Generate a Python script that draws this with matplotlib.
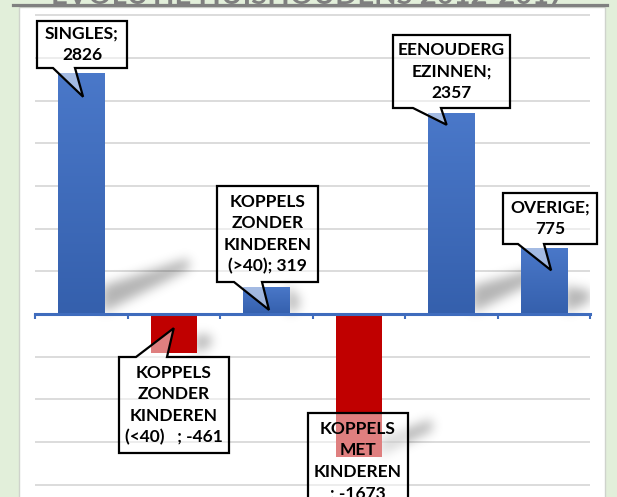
import numpy as np
import matplotlib
matplotlib.use('Agg')
import matplotlib.pyplot as plt
from matplotlib.patches import Rectangle, Polygon
from matplotlib.path import Path
from matplotlib.transforms import IdentityTransform
from matplotlib.lines import Line2D
from matplotlib.colors import LinearSegmentedColormap

# ---------------- data ----------------
categories = ["SINGLES", "KOPPELS ZONDER KINDEREN (<40)", "KOPPELS ZONDER KINDEREN (>40)",
              "KOPPELS MET KINDEREN", "EENOUDERGEZINNEN", "OVERIGE"]
values = [2826, -461, 319, -1673, 2357, 775]
label_texts = ["SINGLES;\n2826",
               "KOPPELS\nZONDER\nKINDEREN\n(<40)   ; -461",
               "KOPPELS\nZONDER\nKINDEREN\n(>40); 319",
               "KOPPELS\nMET\nKINDEREN\n; -1673",
               "EENOUDERG\nEZINNEN;\n2357",
               "OVERIGE;\n775"]
grid_ticks = list(range(-2000, 3501, 500))
title = "EVOLUTIE HUISHOUDENS 2012-2017"

# ---------------- layout / style ----------------
W, H = 617, 497
FONT = 'Lato'
BLUE_TOP, BLUE_BOT = '#4a78c9', '#3560ad'
RED = '#c00000'
AXIS_BLUE = '#3f6cbd'

# callout layout: box in image pixels (x0, y0, x1, y1), tail edge, tail base x-range,
# tail tip as (x offset in categories, fraction of bar value)
callouts = [
    dict(box=(37, 21, 127, 68), edge='bottom', base=(53, 75), tip=(0.02, 0.90)),
    dict(box=(119, 357, 229, 453), edge='top', base=(136, 167), tip=(0.0, 0.36)),
    dict(box=(217, 186, 318, 282), edge='bottom', base=(234, 262), tip=(0.03, 0.15)),
    dict(box=(308, 413, 408, 509), edge=None, base=None, tip=None),
    dict(box=(393, 35, 510, 108), edge='bottom', base=(413, 441), tip=(-0.05, 0.94)),
    dict(box=(503, 193, 597, 244), edge='bottom', base=(518, 544), tip=(0.08, 0.66)),
]

fig = plt.figure(figsize=(W / 100, H / 100), dpi=100)
fig.patch.set_facecolor('#e2efda')

# white chart area
fig.patches.append(Rectangle((19.5 / W, -0.01), (605 - 19.5) / W, (H - 7) / H + 0.01,
                             transform=fig.transFigure, facecolor='white',
                             edgecolor='#cfd3cc', lw=1.0, zorder=-2))
# title (mostly cropped off the top) and its underline
fig.text(0.5, 1 - 4.5 / H, title, ha='center', va='baseline', fontsize=21,
         fontweight='bold', color='#7f7f7f', family=FONT, zorder=-1)
fig.add_artist(Line2D([13 / W, 607 / W], [1 - 4.5 / H] * 2, transform=fig.transFigure,
                      color='#808080', lw=2.3, zorder=-1))

# axes: x from 35 to 590 px, y from 7 px to bottom
ax = fig.add_axes([35 / W, 0, 555 / W, (H - 7) / H])
ax.set_facecolor('none')
px_per_500 = 42.7
ylo = -(H - 314) / px_per_500 * 500
yhi = (314 - 7) / px_per_500 * 500
n = len(values)
ax.set_xlim(-0.5, n - 0.5)
ax.set_ylim(ylo, yhi)

for s in ['top', 'right', 'left']:
    ax.spines[s].set_visible(False)
ax.spines['bottom'].set_position(('data', 0))
ax.spines['bottom'].set_color(AXIS_BLUE)
ax.spines['bottom'].set_linewidth(2.2)
ax.spines['bottom'].set_zorder(4)
ax.set_xticks(np.arange(-0.5, n, 1.0))
ax.set_xticklabels([])
ax.tick_params(axis='x', direction='out', length=3.5, width=1.5, color=AXIS_BLUE)
ax.set_yticks(grid_ticks)
ax.set_yticklabels([])
ax.tick_params(axis='y', length=0)
ax.yaxis.grid(True, color='#d9d9d9', lw=1.3)
ax.set_axisbelow(True)

# bars
x = np.arange(n)
bw = 0.5
colors = [BLUE_TOP if v >= 0 else RED for v in values]
bars = ax.bar(x, values, width=bw, color=colors, zorder=3, linewidth=0)
cmap = LinearSegmentedColormap.from_list('bl', [BLUE_BOT, BLUE_TOP])
grad = np.linspace(1, 0, 64).reshape(-1, 1)
for b, xi, v in zip(bars, x, values):
    if v > 0:
        im = ax.imshow(grad, cmap=cmap, extent=(xi - bw / 2, xi + bw / 2, 0, v),
                       aspect='auto', zorder=3.1, interpolation='bilinear')
        im.set_clip_path(b)
ax.set_xlim(-0.5, n - 0.5)
ax.set_ylim(ylo, yhi)

# soft perspective shadows cast from the lower end of each bar
bbox = ax.get_window_extent()
AW, AH = int(round(bbox.width)), int(round(bbox.height))
jj, ii = np.meshgrid(np.arange(AW), np.arange(AH))
pts = np.column_stack([(bbox.x0 + jj + 0.5).ravel(), (bbox.y1 - ii - 0.5).ravel()])
mask = np.zeros(AW * AH)
for xi, v in zip(x, values):
    X0, Y0 = ax.transData.transform((xi + bw / 2, min(0, v)))
    L = 0.030 * abs(v)
    rise = 0.53 * L
    t0 = 28 if v > 0 else 18
    poly = [(X0 - 2, Y0 + 1), (X0 - 2, Y0 + t0), (X0 + L, Y0 + rise + 11), (X0 + L, Y0 + rise)]
    mask = np.maximum(mask, Path(poly).contains_points(pts).astype(float))
mask = mask.reshape(AH, AW)


def gblur(a, s):
    r = int(3 * s)
    k = np.exp(-0.5 * (np.arange(-r, r + 1) / s) ** 2)
    k /= k.sum()
    a = np.apply_along_axis(lambda m: np.convolve(m, k, mode='same'), 0, a)
    a = np.apply_along_axis(lambda m: np.convolve(m, k, mode='same'), 1, a)
    return a


mask = gblur(mask, 5.5)
shadow = np.zeros((AH, AW, 4))
shadow[..., 3] = 0.30 * mask
ax.imshow(shadow, extent=(-0.5, n - 0.5, ylo, yhi), origin='upper', aspect='auto',
          zorder=2, interpolation='bilinear')
ax.set_xlim(-0.5, n - 0.5)
ax.set_ylim(ylo, yhi)

# callouts
for i, (c, txt) in enumerate(zip(callouts, label_texts)):
    x0, y0, x1, y1 = c['box']
    if c['edge'] is None:
        pts_img = [(x0, y0), (x1, y0), (x1, y1), (x0, y1)]
        disp = [(px, H - py) for px, py in pts_img]
    else:
        tx, ty = ax.transData.transform((x[i] + c['tip'][0], values[i] * c['tip'][1]))
        b0, b1 = c['base']
        if c['edge'] == 'bottom':
            pts_img = [(x0, y0), (x1, y0), (x1, y1), (b1, y1), None, (b0, y1), (x0, y1)]
        else:
            pts_img = [(x0, y0), (b0, y0), None, (b1, y0), (x1, y0), (x1, y1), (x0, y1)]
        disp = [(tx, ty) if p is None else (p[0], H - p[1]) for p in pts_img]
    poly = Polygon(disp, closed=True, transform=IdentityTransform(),
                   facecolor=(1, 1, 1, 0.5), edgecolor='black', lw=1.6,
                   joinstyle='miter', zorder=5, clip_on=False)
    ax.add_patch(poly)
    ax.text((x0 + x1) / 2, H - (y0 + y1) / 2, txt, transform=IdentityTransform(),
            ha='center', va='center', multialignment='center', fontsize=12.5,
            fontweight='bold', family=FONT, color='black', linespacing=1.42,
            zorder=6, clip_on=False)

fig.savefig('out.png', dpi=100, facecolor=fig.get_facecolor())
